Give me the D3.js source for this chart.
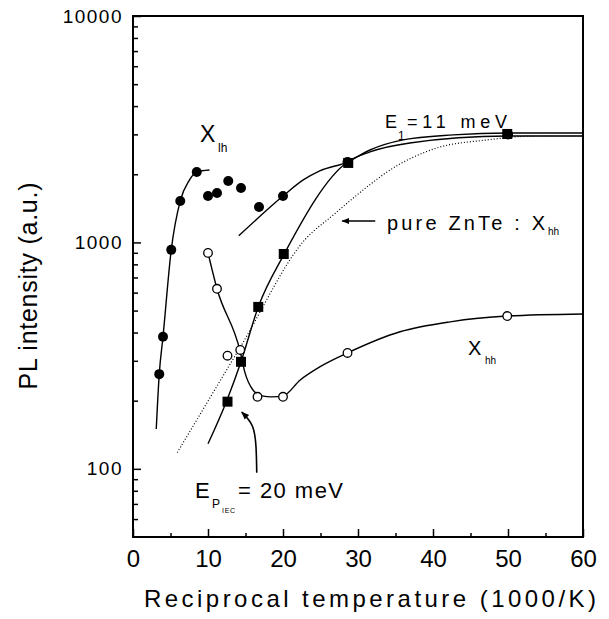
<!DOCTYPE html>
<html>
<head>
<meta charset="utf-8">
<script src="https://cdn.jsdelivr.net/npm/d3@7"></script>
<style>
    body { margin: 0; background: #fff; }
    svg { font-family: "Liberation Sans", Arial, Helvetica, sans-serif; }
</style>
</head>
<body>
<div id="chart"></div>
<script>

// measured points, X_lh (filled circles)
const lhX = [3.5, 4.0, 5.1, 6.3, 8.5, 10.0, 11.2, 12.7, 14.4, 16.8, 20.0, 28.6, 50.0];
const lhY = [262, 383, 927, 1525, 2048, 1603, 1654, 1869, 1740, 1434, 1603, 2265, 3000];

// measured points, X_hh (open circles)
const hhX = [10.0, 11.2, 12.6, 14.3, 16.6, 20.0, 28.6, 49.9];
const hhY = [899, 624, 316, 335, 208, 208, 325, 473];

// measured points, filled squares
const sqX = [12.6, 14.4, 16.7, 20.1, 28.7, 49.9];
const sqY = [198, 297, 519, 889, 2244, 3013];

// fitted curves
const fitLowX = [3.1, 3.5, 4.0, 5.1, 6.3, 7.5, 8.5, 10.2];
const fitLowY = [150, 262, 383, 927, 1525, 1880, 2048, 2090];

const fitE1X = [14.1, 20.0, 22.7, 24.9, 28.6, 31.6, 36.0, 42.7, 50.0, 60.0];
const fitE1Y = [1069, 1603, 1888, 2070, 2265, 2560, 2836, 2985, 3045, 3045];

const fitSqX = [10.0, 12.5, 14.4, 16.7, 20.1, 28.6, 31.6, 36.9, 49.9, 60.0];
const fitSqY = [129, 200, 297, 519, 881, 2265, 2510, 2750, 2951, 2951];

const fitHhX = [10.0, 11.2, 14.3, 14.9, 16.0, 17.2, 18.5, 20.0, 22.3, 24.9, 28.6, 35.6, 42.3, 49.9, 60.0];
const fitHhY = [899, 624, 329, 268, 223, 210, 208, 210, 247, 282, 325, 403, 446, 473, 483];

// pure ZnTe X_hh (dotted)
const pureX = [5.9, 14.4, 22.9, 26.7, 31.2, 33.9, 40.3, 47.2, 53.9, 60.0];
const pureY = [118, 349, 1026, 1322, 1758, 2050, 2600, 2836, 2951, 2951];

// ticks
const xMajor = [0, 10, 20, 30, 40, 50, 60];
const xMinor = [5, 15, 25, 35, 45, 55];
const yMajor = [100, 1000, 10000];
const yMinor = [60, 70, 80, 90, 200, 300, 400, 500, 600, 700, 800, 900,
    2000, 3000, 4000, 5000, 6000, 7000, 8000, 9000];

const zip = (xs, ys) => xs.map((d, i) => ({ x: d, y: ys[i] }));

let margin = { top: 16, right: 26, bottom: 82, left: 133 };
let width = 450, height = 521;

let svg = d3.select("#chart").append("svg")
    .attr("width", 609)
    .attr("height", 619);

let g = svg.append("g")
    .attr("transform", "translate(" + margin.left + "," + margin.top + ")");

let x = d3.scaleLinear().domain([0, 60]).range([0, width]);
let y = d3.scaleLog().domain([50, 10000]).range([height, 0]);

// axes, ticks pointing inward
function styleAxis(sel, size) {
    sel.select(".domain").remove();
    sel.attr("font-family", null).attr("font-size", size);
    sel.selectAll("line").attr("stroke", "#000").attr("stroke-width", 1.5);
    sel.selectAll("text").attr("fill", "#000");
}

g.append("g")
    .attr("transform", "translate(0," + height + ")")
    .call(d3.axisBottom(x).tickValues(xMajor).tickSizeInner(-8).tickSizeOuter(0).tickPadding(13))
    .call(s => styleAxis(s, 24));

g.append("g")
    .attr("transform", "translate(0," + height + ")")
    .call(d3.axisBottom(x).tickValues(xMinor).tickSizeInner(-4).tickSizeOuter(0).tickFormat(""))
    .call(s => styleAxis(s, 24));

g.append("g")
    .call(d3.axisLeft(y).tickValues(yMajor).tickSizeInner(-8).tickSizeOuter(0).tickPadding(10).tickFormat(d3.format("d")))
    .call(s => styleAxis(s, 19))
    .selectAll("text").attr("letter-spacing", 1.5);

g.append("g")
    .call(d3.axisLeft(y).tickValues(yMinor).tickSizeInner(-5).tickSizeOuter(0).tickFormat(""))
    .call(s => styleAxis(s, 19));

// frame
g.append("rect")
    .attr("width", width)
    .attr("height", height)
    .attr("fill", "none")
    .attr("stroke", "#000")
    .attr("stroke-width", 2);

// curves
let line = d3.line()
    .x(d => x(d.x))
    .y(d => y(d.y))
    .curve(d3.curveMonotoneX);

g.append("path")
    .datum(zip(pureX, pureY))
    .attr("fill", "none")
    .attr("stroke", "#000")
    .attr("stroke-width", 1.2)
    .attr("stroke-dasharray", "1,2")
    .attr("d", line);

[[fitLowX, fitLowY], [fitE1X, fitE1Y], [fitSqX, fitSqY], [fitHhX, fitHhY]].forEach(c => {
    g.append("path")
        .datum(zip(c[0], c[1]))
        .attr("fill", "none")
        .attr("stroke", "#000")
        .attr("stroke-width", 1.4)
        .attr("d", line);
});

// markers
g.selectAll(".lh")
    .data(zip(lhX, lhY))
    .enter().append("circle")
    .attr("class", "lh")
    .attr("cx", d => x(d.x))
    .attr("cy", d => y(d.y))
    .attr("r", 5)
    .attr("fill", "#000");

g.selectAll(".sq")
    .data(zip(sqX, sqY))
    .enter().append("rect")
    .attr("class", "sq")
    .attr("x", d => x(d.x) - 5)
    .attr("y", d => y(d.y) - 5)
    .attr("width", 10)
    .attr("height", 10)
    .attr("fill", "#000");

g.selectAll(".hh")
    .data(zip(hhX, hhY))
    .enter().append("circle")
    .attr("class", "hh")
    .attr("cx", d => x(d.x))
    .attr("cy", d => y(d.y))
    .attr("r", 4.3)
    .attr("fill", "#fff")
    .attr("stroke", "#000")
    .attr("stroke-width", 1.3);

// arrowhead
svg.append("defs").append("marker")
    .attr("id", "head")
    .attr("viewBox", "0 0 10 10")
    .attr("refX", 9)
    .attr("refY", 5)
    .attr("markerWidth", 8)
    .attr("markerHeight", 8)
    .attr("markerUnits", "userSpaceOnUse")
    .attr("orient", "auto")
    .append("path")
    .attr("d", "M0,1 L10,5 L0,9 Z")
    .attr("fill", "#000");

g.append("line")
    .attr("x1", x(32.3)).attr("y1", y(1244))
    .attr("x2", x(27.9)).attr("y2", y(1244))
    .attr("stroke", "#000")
    .attr("stroke-width", 1.5)
    .attr("marker-end", "url(#head)");

g.append("path")
    .datum([{ x: 16.5, y: 96 }, { x: 16.4, y: 125 }, { x: 15.9, y: 155 }, { x: 14.5, y: 178 }])
    .attr("fill", "none")
    .attr("stroke", "#000")
    .attr("stroke-width", 1.6)
    .attr("marker-end", "url(#head)")
    .attr("d", d3.line().x(d => x(d.x)).y(d => y(d.y)).curve(d3.curveNatural));

// labels with subscripts
function label(ax, ay, parts) {
    let t = g.append("text").attr("fill", "#000");
    let px = x(ax), py = y(ay);
    parts.forEach(p => {
        let s = t.append("tspan")
            .attr("x", px + (p.dx || 0))
            .attr("y", py + (p.dy || 0))
            .attr("font-size", p.size)
            .text(p.t);
        if (p.len) s.attr("textLength", p.len).attr("lengthAdjust", "spacing");
    });
}

label(8.93, 2780, [{ t: "X", size: 23 }, { t: "lh", size: 12, dx: 18, dy: 10 }]);
label(33.6, 3203, [{ t: "E", size: 18 }, { t: "1", size: 12, dx: 13, dy: 12 },
    { t: "=11 meV", size: 18, dx: 22, len: 100 }]);
label(33.87, 1136, [{ t: "pure ZnTe : X", size: 20, len: 158 }, { t: "hh", size: 10, dx: 161, dy: 5 }]);
label(44.67, 319, [{ t: "X", size: 20 }, { t: "hh", size: 10, dx: 17, dy: 9 }]);
label(8.27, 74.5, [{ t: "E", size: 22 }, { t: "P", size: 12, dx: 17, dy: 10 },
    { t: "IEC", size: 7, dx: 27, dy: 15, len: 13 }, { t: "= 20 meV", size: 22, dx: 43, len: 105 }]);

// axis titles
svg.append("text")
    .attr("x", 370)
    .attr("y", 607)
    .attr("text-anchor", "middle")
    .attr("font-size", 24)
    .attr("textLength", 452)
    .attr("lengthAdjust", "spacing")
    .text("Reciprocal temperature (1000/K)");

svg.append("text")
    .attr("transform", "translate(37,286) rotate(-90)")
    .attr("text-anchor", "middle")
    .attr("font-size", 25)
    .attr("textLength", 207)
    .attr("lengthAdjust", "spacing")
    .text("PL intensity (a.u.)");

</script>
</body>
</html>
